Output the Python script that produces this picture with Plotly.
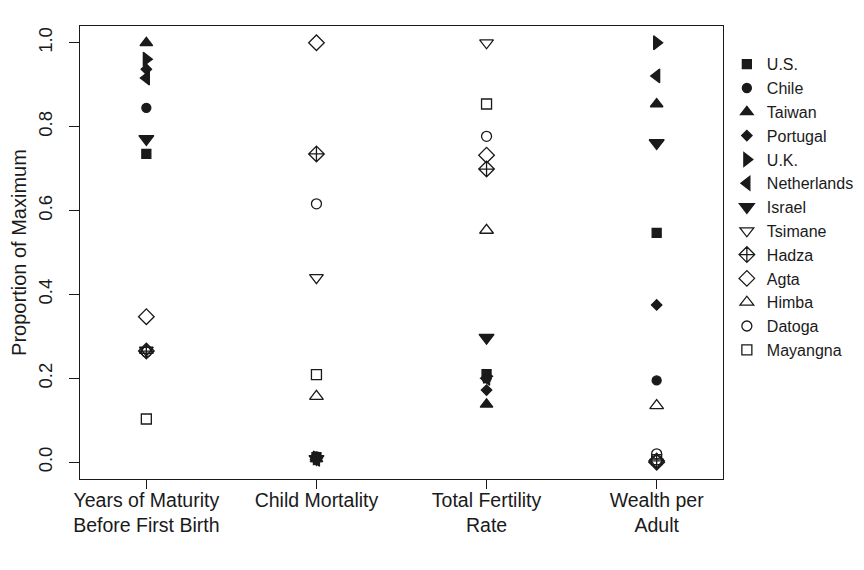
import plotly.graph_objects as go

categories = ["Years of Maturity<br>Before First Birth", "Child Mortality", "Total Fertility<br>Rate", "Wealth per<br>Adult"]
groups = ["U.S.", "Chile", "Taiwan", "Portugal", "U.K.", "Netherlands", "Israel",
          "Tsimane", "Hadza", "Agta", "Himba", "Datoga", "Mayangna"]

# Proportion of maximum, per group, for the four measures
values = {
    "U.S.":        [0.735, 0.012, 0.210, 0.547],
    "Chile":       [0.845, 0.014, 0.200, 0.195],
    "Taiwan":      [1.000, 0.008, 0.138, 0.854],
    "Portugal":    [0.937, 0.006, 0.172, 0.375],
    "U.K.":        [0.961, 0.010, 0.205, 1.000],
    "Netherlands": [0.916, 0.007, 0.200, 0.921],
    "Israel":      [0.771, 0.008, 0.297, 0.761],
    "Tsimane":     [0.267, 0.440, 1.000, 0.000],
    "Hadza":       [0.265, 0.735, 0.699, 0.003],
    "Agta":        [0.347, 1.000, 0.732, 0.000],
    "Himba":       [0.267, 0.157, 0.553, 0.135],
    "Datoga":      [0.263, 0.616, 0.777, 0.020],
    "Mayangna":    [0.103, 0.209, 0.854, 0.006],
}

symbols = {
    "U.S.": ("square", 9), "Chile": ("circle", 9), "Taiwan": ("triangle-up", 11),
    "Portugal": ("diamond", 8), "U.K.": ("triangle-right", 12),
    "Netherlands": ("triangle-left", 12), "Israel": ("triangle-down", 13),
    "Tsimane": ("triangle-down-open", 12), "Hadza": ("diamond-cross-open", 12),
    "Agta": ("diamond-open", 12), "Himba": ("triangle-up-open", 12),
    "Datoga": ("circle-open", 10), "Mayangna": ("square-open", 10),
}

xpos = [1, 2, 3, 4]
ink = "#1a1a1a"
font = "Liberation Sans, Arial, Helvetica, sans-serif"

fig = go.Figure()
for g in groups:
    sym, sz = symbols[g]
    fig.add_trace(go.Scatter(
        x=xpos, y=values[g], mode="markers", name=g,
        marker=dict(symbol=sym, size=sz, color=ink, line=dict(color=ink, width=1.3)),
    ))

fig.update_layout(
    width=864, height=570,
    margin=dict(l=72, r=149, t=18, b=99),
    paper_bgcolor="white", plot_bgcolor="white",
    font=dict(family=font, color=ink, size=18),
    showlegend=True,
    legend=dict(x=1.006, xanchor="left", y=0.953, yanchor="top",
                font=dict(size=16, color=ink), itemwidth=30,
                tracegroupgap=0, bgcolor="rgba(0,0,0,0)"),
    xaxis=dict(range=[0.61, 4.39], tickmode="array", tickvals=xpos, ticktext=categories,
               showgrid=False, zeroline=False, showline=True, mirror=True, automargin=False,
               linecolor=ink, linewidth=1.2, ticks="outside", ticklen=9, tickcolor=ink,
               tickfont=dict(size=19.5), ticklabelstandoff=-6),
    yaxis=dict(range=[-0.04, 1.04], tickmode="array", tickvals=[0, 0.2, 0.4, 0.6, 0.8, 1.0],
               ticktext=["0.0", "0.2", "0.4", "0.6", "0.8", "1.0"], tickangle=-90,
               showgrid=False, zeroline=False, showline=True, mirror=True, automargin=False,
               linecolor=ink, linewidth=1.2, ticks="outside", ticklen=10, tickcolor=ink,
               tickfont=dict(size=18.5), ticklabelstandoff=10,
               title=dict(text="Proportion of Maximum", font=dict(size=20), standoff=5)),
)

fig.write_html("out.html")
